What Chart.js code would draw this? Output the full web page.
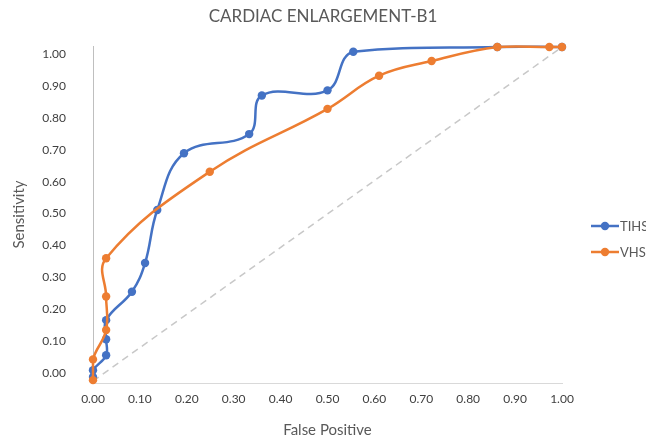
<!DOCTYPE html>
<html>
<head>
<meta charset="utf-8">
<script src="https://cdn.jsdelivr.net/npm/chart.js@4.4.1/dist/chart.umd.min.js"></script>
<style>
  html, body { margin: 0; padding: 0; background: #ffffff; }
  #wrap { width: 646px; height: 441px; }
</style>
</head>
<body>
<div id="wrap"><canvas id="c" width="646" height="441"></canvas></div>
<script>
// ---- data ----
const chartTitle = 'CARDIAC ENLARGEMENT-B1';
const xTitle = 'False Positive';
const yTitle = 'Sensitivity';
const seriesNames = ['TIHS', 'VHS'];

const tihsFP   = [0, 0, 0.028, 0.028, 0.028, 0.083, 0.111, 0.137, 0.194, 0.333, 0.360, 0.500, 0.555, 0.862, 1.000];
const tihsSens = [-0.012, 0.009, 0.056, 0.106, 0.166, 0.255, 0.345, 0.511, 0.689, 0.749, 0.870, 0.886, 1.007, 1.022, 1.022];

const vhsFP    = [0, 0, 0.028, 0.028, 0.028, 0.249, 0.500, 0.610, 0.722, 0.862, 0.973, 1.000];
const vhsSens  = [-0.022, 0.043, 0.135, 0.240, 0.360, 0.631, 0.828, 0.932, 0.978, 1.022, 1.022, 1.022];

const refFP    = [0, 1];
const refSens  = [-0.025, 1.022];

const xTickValues = [0, 0.1, 0.2, 0.3, 0.4, 0.5, 0.6, 0.7, 0.8, 0.9, 1.0];
const yTickValues = [0, 0.1, 0.2, 0.3, 0.4, 0.5, 0.6, 0.7, 0.8, 0.9, 1.0];

// ---- helpers ----
const toPts = (xs, ys) => xs.map((x, i) => ({ x: x, y: ys[i] }));
const BLUE = '#4472C4';
const ORANGE = '#ED7D31';
const FONT = 'Lato, "Open Sans", sans-serif';

const legendPlugin = {
  id: 'sideLegend',
  afterDraw(chart) {
    const ctx = chart.ctx;
    const items = [
      { ds: chart.data.datasets[0], y: 226 },
      { ds: chart.data.datasets[1], y: 252 }
    ];
    ctx.save();
    items.forEach(it => {
      const c = it.ds.borderColor;
      ctx.strokeStyle = c;
      ctx.lineWidth = 2.5;
      ctx.beginPath();
      ctx.moveTo(591, it.y);
      ctx.lineTo(619, it.y);
      ctx.stroke();
      ctx.fillStyle = c;
      ctx.beginPath();
      ctx.arc(605, it.y, 4.2, 0, Math.PI * 2);
      ctx.fill();
      ctx.fillStyle = '#595959';
      ctx.font = '13px ' + FONT;
      ctx.textBaseline = 'middle';
      ctx.textAlign = 'left';
      ctx.fillText(it.ds.label, 620, it.y + 0.5);
    });
    ctx.restore();
  }
};

const bgPlugin = {
  id: 'bg',
  beforeDraw(chart) {
    const ctx = chart.ctx;
    ctx.save();
    ctx.fillStyle = '#ffffff';
    ctx.fillRect(0, 0, chart.width, chart.height);
    ctx.restore();
  }
};

new Chart(document.getElementById('c'), {
  type: 'scatter',
  data: {
    datasets: [
      {
        label: seriesNames[0],
        data: toPts(tihsFP, tihsSens),
        showLine: true,
        borderColor: BLUE,
        backgroundColor: BLUE,
        borderWidth: 2.5,
        pointRadius: 4.2,
        pointHoverRadius: 4.2,
        pointBorderWidth: 0,
        tension: 0.4,
        clip: false,
        order: 1
      },
      {
        label: seriesNames[1],
        data: toPts(vhsFP, vhsSens),
        showLine: true,
        borderColor: ORANGE,
        backgroundColor: ORANGE,
        borderWidth: 2.5,
        pointRadius: 4.2,
        pointHoverRadius: 4.2,
        pointBorderWidth: 0,
        tension: 0.4,
        clip: false,
        order: 0
      },
      {
        label: 'ref',
        data: toPts(refFP, refSens),
        showLine: true,
        borderColor: '#c8c8c8',
        borderWidth: 1.5,
        borderDash: [7, 5],
        pointRadius: 0,
        tension: 0,
        clip: false,
        order: 2
      }
    ]
  },
  options: {
    responsive: false,
    animation: false,
    events: [],
    layout: { padding: 0 },
    plugins: {
      legend: { display: false },
      tooltip: { enabled: false },
      title: {
        display: true,
        text: chartTitle,
        color: '#595959',
        font: { family: FONT, size: 17, weight: 'normal' },
        padding: { top: 6.8, bottom: 18.8 }
      }
    },
    scales: {
      x: {
        type: 'linear',
        position: 'bottom',
        min: 0,
        max: 1,
        afterBuildTicks: s => { s.ticks = xTickValues.map(v => ({ value: v })); },
        afterFit: s => { s.height = 58; },
        grid: { display: false, drawTicks: false },
        border: { display: true, color: '#d9d9d9', width: 1 },
        ticks: {
          autoSkip: false,
          maxRotation: 0,
          padding: 9,
          color: '#404040',
          font: { family: FONT, size: 12 },
          callback: v => Number(v).toFixed(2)
        },
        title: {
          display: true,
          text: xTitle,
          color: '#595959',
          font: { family: FONT, size: 15 },
          padding: { top: 4, bottom: 1.5 }
        }
      },
      y: {
        type: 'linear',
        position: 'left',
        min: -0.031,
        max: 1.025,
        afterBuildTicks: s => { s.ticks = yTickValues.map(v => ({ value: v })); },
        afterFit: s => { s.width = 93; },
        grid: { display: false, drawTicks: false },
        border: { display: true, color: '#bfbfbf', width: 1 },
        ticks: {
          padding: 27,
          color: '#404040',
          font: { family: FONT, size: 12 },
          callback: v => Number(v).toFixed(2)
        },
        title: {
          display: true,
          text: yTitle,
          color: '#595959',
          font: { family: FONT, size: 15 },
          padding: { top: 10, bottom: 2 }
        }
      },
      yR: {
        type: 'linear',
        position: 'right',
        display: true,
        afterFit: s => { s.width = 84; },
        grid: { display: false, drawTicks: false },
        border: { display: false },
        ticks: { display: false }
      }
    }
  },
  plugins: [bgPlugin, legendPlugin]
});
</script>
</body>
</html>
